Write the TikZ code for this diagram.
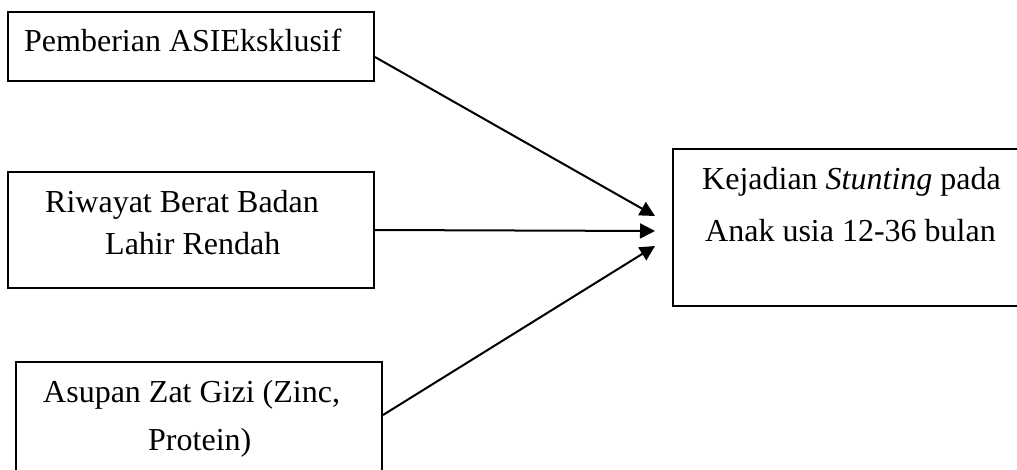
\documentclass[tikz,border=0pt]{standalone}
\usepackage{fontspec}
\setmainfont{Liberation Serif}
\usetikzlibrary{arrows.meta}
\begin{document}
\begin{tikzpicture}[x=1pt,y=-1pt,
  box/.style={draw=black, line width=2pt, rectangle, inner sep=0pt, outer sep=0pt},
  lbl/.style={anchor=base west, inner sep=0pt, font=\fontsize{32}{38}\selectfont},
  conn/.style={line width=2pt, -{Triangle[length=15pt,width=15pt]}}]
\useasboundingbox (0,0) rectangle (1017,470);
\clip (0,0) rectangle (1017,470);
\node[box, minimum width=366pt, minimum height=69pt] (b1) at (191,46.5) {};
\node[box, minimum width=366pt, minimum height=116pt] (b2) at (191,230) {};
\node[box, minimum width=366pt, minimum height=116pt] (b3) at (199,420) {};
\node[box, minimum width=347pt, minimum height=157pt] (b4) at (846.5,227.5) {};
\node[lbl] (l1) at (24,52) {Pemberian ASIEksklusif};
\node[lbl] (l2a) at (45,213) {Riwayat Berat Badan};
\node[lbl] (l2b) at (105,255) {Lahir Rendah};
\node[lbl] (l3a) at (43,402) {Asupan Zat Gizi (Zinc,};
\node[lbl] (l3b) at (148,450) {Protein)};
\node[lbl] (l4a) at (702,190) {Kejadian \textit{Stunting} pada};
\node[lbl] (l4b) at (705,242) {Anak usia 12-36 bulan};
\coordinate (s1) at (375,57);
\coordinate (s3) at (383,415);
\coordinate (e1) at (655,216);
\coordinate (e2) at (655,231);
\coordinate (e3) at (655,246);
\draw[conn] (s1) -- (e1);
\draw[conn] (b2.east) -- (e2);
\draw[conn] (s3) -- (e3);
\end{tikzpicture}
\end{document}
